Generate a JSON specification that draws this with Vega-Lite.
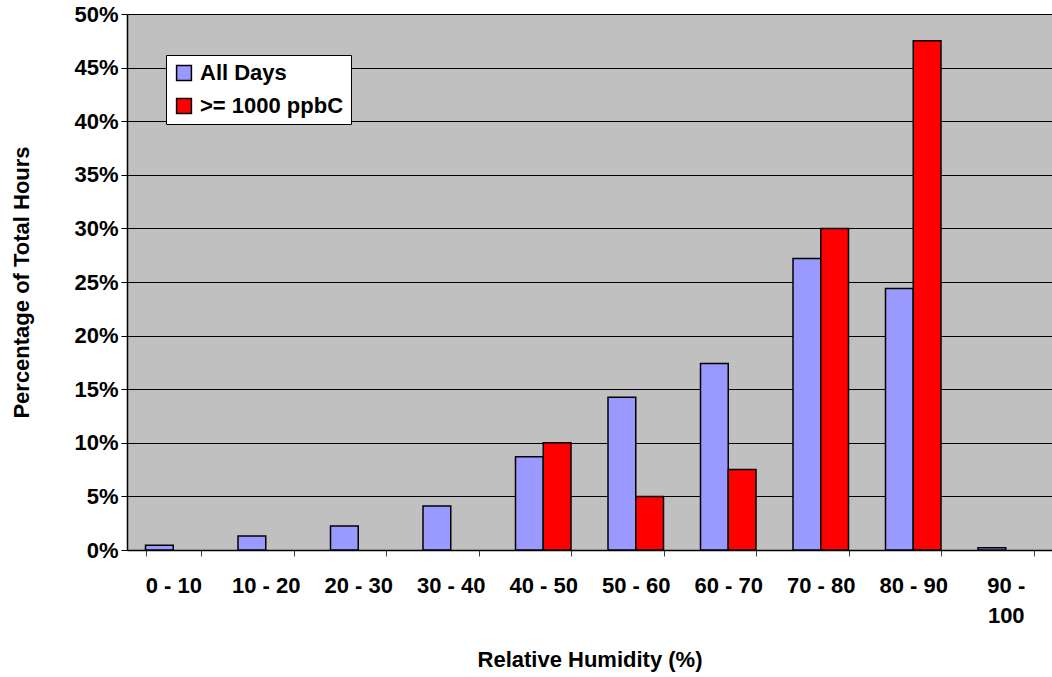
{
  "$schema": "https://vega.github.io/schema/vega-lite/v6.json",
  "autosize": "none",
  "width": 925,
  "height": 536,
  "padding": {"left": 127, "top": 14, "right": 0, "bottom": 127},
  "background": "white",
  "config": {
    "font": "Liberation Sans",
    "view": {"fill": "#C0C0C0", "stroke": null}
  },
  "data": {
    "values": [
      {"rh": "0 - 10", "series": "All Days", "pct": 0.0045},
      {"rh": "10 - 20", "series": "All Days", "pct": 0.013},
      {"rh": "20 - 30", "series": "All Days", "pct": 0.0225},
      {"rh": "30 - 40", "series": "All Days", "pct": 0.041},
      {"rh": "40 - 50", "series": "All Days", "pct": 0.087},
      {"rh": "50 - 60", "series": "All Days", "pct": 0.1425},
      {"rh": "60 - 70", "series": "All Days", "pct": 0.174},
      {"rh": "70 - 80", "series": "All Days", "pct": 0.272},
      {"rh": "80 - 90", "series": "All Days", "pct": 0.244},
      {"rh": "90 - 100", "series": "All Days", "pct": 0.0022},
      {"rh": "40 - 50", "series": ">= 1000 ppbC", "pct": 0.1},
      {"rh": "50 - 60", "series": ">= 1000 ppbC", "pct": 0.05},
      {"rh": "60 - 70", "series": ">= 1000 ppbC", "pct": 0.075},
      {"rh": "70 - 80", "series": ">= 1000 ppbC", "pct": 0.3},
      {"rh": "80 - 90", "series": ">= 1000 ppbC", "pct": 0.475}
    ]
  },
  "mark": {"type": "bar", "stroke": "black", "strokeWidth": 1.5},
  "encoding": {
    "x": {
      "field": "rh",
      "type": "nominal",
      "sort": null,
      "scale": {"paddingInner": 0.4, "paddingOuter": 0.2},
      "axis": {
        "title": "Relative Humidity (%)",
        "titleFont": "Liberation Sans",
        "titleFontSize": 22,
        "titleFontWeight": "bold",
        "titlePadding": 23,
        "labelAngle": 0,
        "labelFont": "Liberation Sans",
        "labelFontSize": 22,
        "labelFontWeight": "bold",
        "labelColor": "black",
        "labelPadding": 19,
        "labelLineHeight": 30,
        "labelExpr": "datum.value == '90 - 100' ? ['90 -', '100'] : datum.value",
        "tickBand": "extent",
        "tickSize": 6,
        "tickColor": "#404040",
        "domainColor": "black",
        "domainWidth": 1.5,
        "grid": false
      }
    },
    "xOffset": {
      "field": "series",
      "type": "nominal",
      "sort": ["All Days", ">= 1000 ppbC"],
      "scale": {"domain": ["All Days", ">= 1000 ppbC"]}
    },
    "y": {
      "field": "pct",
      "type": "quantitative",
      "scale": {"domain": [0, 0.5], "nice": false},
      "axis": {
        "title": "Percentage of Total Hours",
        "titleFont": "Liberation Sans",
        "titleFontSize": 22,
        "titleFontWeight": "bold",
        "titlePadding": 40,
        "format": ".0%",
        "values": [0, 0.05, 0.1, 0.15, 0.2, 0.25, 0.3, 0.35, 0.4, 0.45, 0.5],
        "labelFont": "Liberation Sans",
        "labelFontSize": 22,
        "labelFontWeight": "bold",
        "labelColor": "black",
        "labelPadding": 3,
        "tickSize": 6,
        "tickColor": "black",
        "domainColor": "black",
        "domainWidth": 1.5,
        "grid": true,
        "gridColor": "black",
        "gridWidth": 1.2
      }
    },
    "color": {
      "field": "series",
      "type": "nominal",
      "sort": ["All Days", ">= 1000 ppbC"],
      "scale": {"domain": ["All Days", ">= 1000 ppbC"], "range": ["#9999FF", "#FF0000"]},
      "legend": {
        "title": null,
        "orient": "none",
        "legendX": 39,
        "legendY": 41,
        "fillColor": "white",
        "strokeColor": "black",
        "padding": 7,
        "symbolType": "square",
        "symbolSize": 220,
        "symbolStrokeColor": "black",
        "symbolStrokeWidth": 1.5,
        "labelFont": "Liberation Sans",
        "labelFontSize": 22,
        "labelFontWeight": "bold",
        "labelColor": "black",
        "labelOffset": 5,
        "rowPadding": 11
      }
    }
  }
}
